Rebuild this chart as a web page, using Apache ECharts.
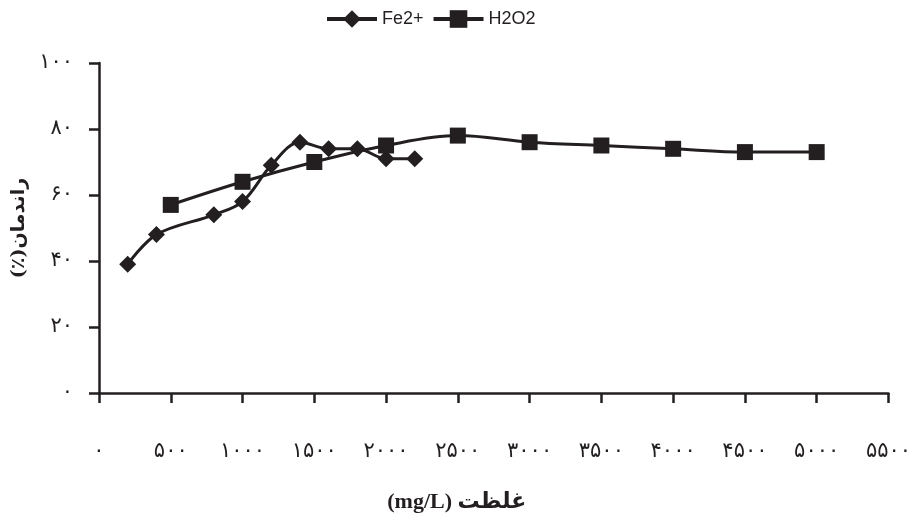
<!DOCTYPE html>
<html>
<head>
<meta charset="utf-8">
<script src="https://cdn.jsdelivr.net/npm/echarts@6/dist/echarts.min.js"></script>
<style>html,body{margin:0;padding:0;background:#fff;}#c{width:914px;height:520px;}</style>
</head>
<body>
<div id="c"></div>
<script>
var seriesNames = ['Fe2+', 'H2O2'];
var feX = [200, 400, 800, 1000, 1200, 1400, 1600, 1800, 2000, 2200];
var feY = [39, 48, 54, 58, 69, 76, 74, 74, 71, 71];
var h2o2X = [500, 1000, 1500, 2000, 2500, 3000, 3500, 4000, 4500, 5000];
var h2o2Y = [57, 64, 70, 75, 78, 76, 75, 74, 73, 73];
var xName = '(mg/L) غلظت';
var yName = '(٪)راندمان';

var faDigits = ['۰','۱','۲','۳','۴','۵','۶','۷','۸','۹'];
function toFa(v) { return String(v).replace(/[0-9]/g, function (d) { return faDigits[+d]; }); }
function pairs(xs, ys) { return xs.map(function (x, i) { return [x, ys[i]]; }); }

var ink = '#231f20';
var arFont = '"DejaVu Serif", "Liberation Serif", "DejaVu Sans", serif';
var chart = echarts.init(document.getElementById('c'));
chart.setOption({
  animation: false,
  backgroundColor: '#fff',
  legend: {
    left: 320, top: 5,
    itemWidth: 50, itemHeight: 22, itemGap: 8,
    lineStyle: { width: 4 },
    textStyle: { fontFamily: '"Liberation Sans", Arial, sans-serif', fontSize: 18, color: ink },
    data: seriesNames
  },
  grid: { left: 99, right: 25, top: 63, bottom: 127, containLabel: false },
  xAxis: {
    type: 'value', min: 0, max: 5500, interval: 500,
    name: xName, nameLocation: 'middle', nameGap: 98,
    nameTextStyle: { fontFamily: '"Liberation Serif", "DejaVu Sans", serif', fontWeight: 'bold', fontSize: 22, color: ink, padding: [0, 74, 0, 0] },
    axisLine: { lineStyle: { color: ink, width: 2.5 } },
    axisTick: { show: true, inside: false, length: 10, lineStyle: { color: ink, width: 2.5 } },
    axisLabel: { margin: 48, fontFamily: arFont, fontSize: 21, color: ink, formatter: function (v) { return toFa(v); } },
    splitLine: { show: false }
  },
  yAxis: {
    type: 'value', min: 0, max: 100, interval: 20,
    name: yName, nameLocation: 'middle', nameGap: 70, nameRotate: 90,
    nameTextStyle: { fontFamily: arFont, fontWeight: 'bold', fontSize: 19, color: ink },
    axisLine: { show: true, lineStyle: { color: ink, width: 2.5 } },
    axisTick: { show: true, length: 10, lineStyle: { color: ink, width: 2.5 } },
    axisLabel: { margin: 26, fontFamily: arFont, fontSize: 21, color: ink, formatter: function (v) { return toFa(v); } },
    splitLine: { show: false }
  },
  series: [
    {
      name: seriesNames[0], type: 'line', smooth: 0.35,
      data: pairs(feX, feY),
      symbol: 'diamond', symbolSize: 17,
      itemStyle: { color: ink },
      lineStyle: { color: ink, width: 3 }
    },
    {
      name: seriesNames[1], type: 'line', smooth: 0.35,
      data: pairs(h2o2X, h2o2Y),
      symbol: 'rect', symbolSize: 16,
      itemStyle: { color: ink },
      lineStyle: { color: ink, width: 3 }
    }
  ]
});
</script>
</body>
</html>
